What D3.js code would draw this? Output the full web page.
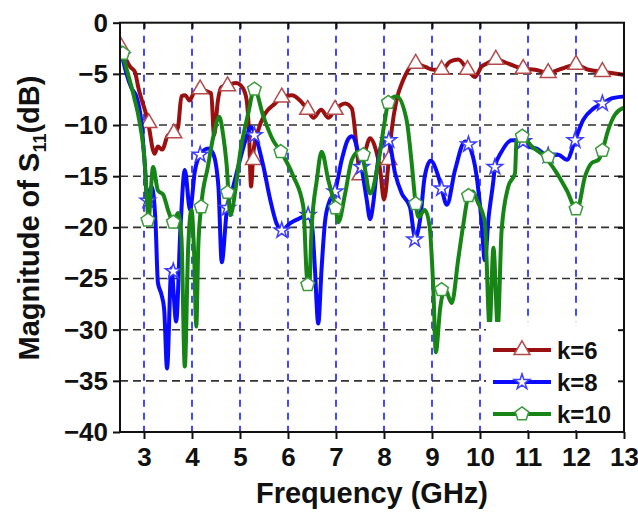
<!DOCTYPE html>
<html>
<head>
<meta charset="utf-8">
<script src="https://cdn.jsdelivr.net/npm/d3@7"></script>
<style>
  html, body { margin: 0; padding: 0; background: #fff; }
  svg { display: block; font-family: 'Liberation Sans', Arial, sans-serif; }
</style>
</head>
<body>
<div id="chart"></div>
<script>
// k=6 curve (frequency in GHz, S11 in dB)
const freqK6 = [2.5, 2.71, 2.81, 2.88, 3.08, 3.22, 3.29, 3.38, 3.5, 3.64, 3.71, 3.78, 3.86, 3.95, 4.06, 4.19,
  4.4, 4.46, 4.54, 4.61, 4.75, 4.92, 5.06, 5.14, 5.19, 5.23, 5.28, 5.38, 5.52, 5.73, 5.87, 6.08, 6.25,
  6.41, 6.53, 6.69, 6.84, 6.98, 7.19, 7.33, 7.43, 7.5, 7.6, 7.71, 7.81, 7.92, 8.0, 8.1, 8.16, 8.26,
  8.4, 8.66, 8.85, 9.03, 9.2, 9.38, 9.55, 9.74, 9.9, 10.03, 10.14, 10.33, 10.59, 10.9, 11.15, 11.42,
  11.7, 12.0, 12.26, 12.55, 13.0];
const s11K6 = [-2.2, -4.3, -4.8, -6.3, -9.6, -12.8, -12.1, -12.4, -11.0, -10.8, -10.2, -7.2, -7.1, -7.6, -6.7, -6.6,
  -6.9, -11.0, -7.6, -6.3, -6.1, -5.9, -6.4, -7.6, -11.0, -16.0, -12.6, -10.5, -8.9, -7.9, -7.3, -7.1, -7.6,
  -8.5, -9.3, -8.5, -9.3, -8.5, -7.9, -8.4, -12.1, -14.9, -12.8, -11.3, -12.1, -14.4, -17.3, -13.4, -10.5, -7.6,
  -5.6, -4.0, -4.3, -4.6, -4.6, -3.8, -3.6, -4.6, -5.3, -4.3, -4.0, -3.6, -4.0, -4.5, -4.6, -4.9,
  -4.5, -4.1, -4.6, -4.8, -5.1];

// k=8 curve
const freqK8 = [2.53, 2.63, 2.74, 2.84, 2.94, 3.01, 3.07, 3.16, 3.24, 3.29, 3.36, 3.42, 3.48, 3.57, 3.67, 3.76,
  3.85, 3.96, 4.06, 4.17, 4.34, 4.44, 4.55, 4.62, 4.72, 4.86, 5.0, 5.14, 5.22, 5.35, 5.49, 5.63, 5.76,
  5.87, 6.04, 6.25, 6.42, 6.5, 6.56, 6.63, 6.7, 6.77, 6.86, 6.98, 7.12, 7.25, 7.33, 7.47, 7.53, 7.64,
  7.71, 7.78, 7.85, 8.02, 8.1, 8.23, 8.37, 8.54, 8.65, 8.75, 8.85, 8.97, 9.13, 9.2, 9.31, 9.48, 9.69,
  9.76, 9.93, 10.03, 10.1, 10.18, 10.28, 10.31, 10.45, 10.66, 10.9, 11.01, 11.18, 11.42, 11.63, 11.81,
  11.98, 12.15, 12.36, 12.55, 12.74, 13.0];
const s11K8 = [-3.0, -4.9, -6.4, -7.2, -9.5, -13.4, -17.3, -16.0, -19.5, -25.4, -26.5, -28.0, -33.8, -24.0, -29.2, -20.0,
  -14.4, -18.3, -14.5, -12.9, -12.3, -12.8, -16.0, -23.4, -18.6, -16.0, -13.4, -11.1, -10.2, -11.5, -14.1, -17.3, -19.6,
  -20.3, -19.6, -19.1, -18.8, -19.8, -24.0, -29.4, -24.0, -19.5, -17.5, -16.5, -13.4, -11.4, -11.1, -12.8, -14.1, -17.3,
  -19.2, -17.5, -14.4, -11.3, -11.5, -14.7, -16.7, -18.0, -21.0, -19.3, -15.0, -13.5, -15.0, -16.2, -17.8, -14.4, -11.6,
  -11.9, -15.0, -19.3, -23.2, -19.0, -15.4, -14.1, -12.6, -11.5, -11.6, -12.1, -12.3, -13.0, -12.9, -13.4,
  -11.5, -9.5, -8.4, -7.9, -7.4, -7.2];

// k=10 curve
const freqK10 = [2.53, 2.7, 2.8, 2.9, 3.01, 3.07, 3.09, 3.19, 3.29, 3.4, 3.5, 3.61, 3.71, 3.78, 3.85, 3.92,
  3.99, 4.04, 4.09, 4.13, 4.19, 4.33, 4.45, 4.57, 4.65, 4.72, 4.8, 4.9, 5.0, 5.17, 5.3, 5.49, 5.69,
  5.85, 6.11, 6.32, 6.39, 6.44, 6.49, 6.6, 6.7, 6.84, 6.99, 7.05, 7.19, 7.33, 7.47, 7.57, 7.71, 7.88,
  8.02, 8.09, 8.26, 8.47, 8.57, 8.66, 8.72, 8.85, 8.95, 9.03, 9.08, 9.17, 9.27, 9.41, 9.55, 9.65, 9.76,
  9.85, 9.95, 10.1, 10.2, 10.28, 10.37, 10.45, 10.59, 10.73, 10.76, 10.88, 11.08, 11.35, 11.6, 11.81,
  12.02, 12.19, 12.33, 12.47, 12.55, 12.67, 12.81, 13.0];
const s11K10 = [-2.8, -5.6, -7.4, -9.5, -13.4, -18.0, -19.3, -14.1, -16.4, -16.8, -18.3, -19.5, -18.6, -21.0, -33.6, -22.0,
  -18.3, -22.0, -29.7, -22.0, -18.0, -14.1, -11.0, -9.2, -11.0, -13.8, -18.8, -16.5, -12.8, -8.9, -6.5, -9.2, -11.5,
  -12.6, -15.0, -18.0, -24.7, -26.0, -20.3, -15.4, -12.6, -15.4, -18.1, -19.5, -16.7, -13.4, -12.6, -13.5, -16.7, -13.7,
  -9.5, -7.8, -7.2, -9.5, -13.4, -17.7, -19.0, -18.3, -19.9, -26.3, -32.2, -27.9, -26.0, -27.4, -23.0, -19.8, -16.9,
  -16.5, -17.5, -19.5, -29.7, -22.0, -29.7, -20.3, -16.0, -14.7, -11.5, -11.1, -12.1, -13.1, -14.7, -16.4,
  -18.3, -15.0, -13.7, -13.4, -12.5, -10.5, -9.0, -8.3];

// marker positions
const markK6 = [[2.5, -2.2], [3.1, -9.8], [3.62, -10.8], [4.17, -6.5], [4.74, -6.2], [5.28, -13.4], [5.87, -7.3],
  [6.41, -8.5], [6.98, -8.5], [7.5, -14.9], [8.1, -13.4], [8.66, -4.0], [9.2, -4.6], [9.74, -4.6],
  [10.33, -3.6], [10.9, -4.5], [11.42, -4.9], [12.0, -4.1], [12.55, -4.8]];
const markK8 = [[2.54, -3.2], [3.08, -17.4], [3.61, -24.3], [4.17, -12.9], [4.74, -18.1], [5.3, -11.0], [5.87, -20.3],
  [6.42, -18.8], [6.98, -16.5], [7.53, -14.1], [8.1, -11.5], [8.64, -21.2], [9.2, -16.2], [9.76, -11.9],
  [10.31, -14.1], [10.9, -11.6], [11.42, -13.0], [11.98, -11.5], [12.55, -7.9]];
const markK10 = [[2.56, -3.0], [3.08, -19.3], [3.61, -19.5], [4.19, -18.0], [4.74, -16.6], [5.3, -6.5], [5.85, -12.6],
  [6.41, -25.6], [6.99, -18.1], [7.57, -12.9], [8.09, -7.8], [8.66, -17.7], [9.2, -26.1], [9.76, -16.9],
  [10.88, -11.1], [11.42, -13.1], [12.0, -18.2], [12.55, -12.5]];

const legendLabels = ['k=6', 'k=8', 'k=10'];
const xTicks = [3, 4, 5, 6, 7, 8, 9, 10, 11, 12, 13];
const yTicks = [0, -5, -10, -15, -20, -25, -30, -35, -40];

const width = 638;
const height = 512;
const marginLeft = 120;
const marginRight = 14;
const marginTop = 22.7;
const marginBottom = 80;

// pentagon symbol (d3 has none)
const symbolPentagon = {
  draw(context, size) {
    const r = Math.sqrt(size / 2.378);
    for (let i = 0; i < 5; i += 1) {
      const a = -Math.PI / 2 + (i * 2 * Math.PI) / 5;
      const px = r * Math.cos(a);
      const py = r * Math.sin(a);
      if (i === 0) context.moveTo(px, py);
      else context.lineTo(px, py);
    }
    context.closePath();
  },
};

const series = [
  { name: legendLabels[0], x: freqK6, y: s11K6, marks: markK6, color: '#9a0f0f', markColor: '#b44a4a', symbol: d3.symbolTriangle, size: 110 },
  { name: legendLabels[1], x: freqK8, y: s11K8, marks: markK8, color: '#0a0aff', markColor: '#3d3dff', symbol: d3.symbolStar, size: 75 },
  { name: legendLabels[2], x: freqK10, y: s11K10, marks: markK10, color: '#168516', markColor: '#3c9a3c', symbol: symbolPentagon, size: 120 },
];

const xScale = d3.scaleLinear([2.5, 13], [marginLeft, width - marginRight]);
const yScale = d3.scaleLinear([-40, 0], [height - marginBottom, marginTop]);

const svg = d3
  .select('#chart')
  .append('svg')
  .attr('width', width)
  .attr('height', height)
  .attr('viewBox', [0, 0, width, height]);

svg
  .append('defs')
  .append('clipPath')
  .attr('id', 'clip')
  .append('rect')
  .attr('x', marginLeft)
  .attr('y', marginTop)
  .attr('width', width - marginLeft - marginRight)
  .attr('height', height - marginTop - marginBottom);

// grid
const grid = svg.append('g');
grid
  .selectAll('.hgrid')
  .data(yTicks.filter((d) => d !== 0 && d !== -40))
  .join('line')
  .attr('class', 'hgrid')
  .attr('x1', marginLeft)
  .attr('x2', width - marginRight)
  .attr('y1', (d) => yScale(d))
  .attr('y2', (d) => yScale(d))
  .attr('stroke', '#333')
  .attr('stroke-width', 1.6)
  .attr('stroke-dasharray', '8,5');
grid
  .selectAll('.vgrid')
  .data(xTicks.filter((d) => d !== 13))
  .join('line')
  .attr('class', 'vgrid')
  .attr('x1', (d) => xScale(d))
  .attr('x2', (d) => xScale(d))
  .attr('y1', marginTop)
  .attr('y2', height - marginBottom)
  .attr('stroke', '#1a1aff')
  .attr('stroke-width', 1.6)
  .attr('stroke-dasharray', '7,6');

const body = svg.append('g').attr('clip-path', 'url(#clip)');

const line = d3
  .line()
  .x((d) => xScale(d[0]))
  .y((d) => yScale(d[1]))
  .curve(d3.curveMonotoneX);

series.forEach((s) => {
  const pts = s.x.map((f, i) => [f, s.y[i]]);
  body
    .append('path')
    .attr('d', line(pts))
    .attr('fill', 'none')
    .attr('stroke', s.color)
    .attr('stroke-width', 4)
    .attr('stroke-linejoin', 'round');

  const sym = d3.symbol().type(s.symbol).size(s.size);
  const mg = body.append('g');
  mg.selectAll('path')
    .data(s.marks)
    .join('path')
    .attr('transform', (d) => `translate(${xScale(d[0])},${yScale(d[1])})`)
    .attr('d', sym)
    .attr('fill', '#fff')
    .attr('stroke', s.markColor)
    .attr('stroke-width', 1.5);
});

// legend
const legend = svg.append('g');
legend
  .append('rect')
  .attr('x', 486)
  .attr('y', 322)
  .attr('width', 136)
  .attr('height', 108)
  .attr('fill', '#fff');

series.forEach((s, i) => {
  const ly = 350 + i * 32;
  legend
    .append('line')
    .attr('x1', 493)
    .attr('x2', 551)
    .attr('y1', ly)
    .attr('y2', ly)
    .attr('stroke', s.color)
    .attr('stroke-width', 4);
  legend
    .append('path')
    .attr('transform', `translate(522,${ly})`)
    .attr('d', d3.symbol().type(s.symbol).size(s.size)())
    .attr('fill', '#fff')
    .attr('stroke', s.markColor)
    .attr('stroke-width', 1.5);
  legend
    .append('text')
    .attr('x', 557)
    .attr('y', ly + 8.5)
    .attr('font-size', 24)
    .attr('font-weight', 'bold')
    .attr('fill', '#111')
    .text(s.name);
});

// axes
function styleAxis(g) {
  g.select('.domain').remove();
  g.selectAll('.tick line').attr('stroke', '#111').attr('stroke-width', 2);
  g.selectAll('.tick text')
    .attr('fill', '#111')
    .style('font-size', '26px')
    .style('font-weight', 'bold')
    .style('font-family', "'Liberation Sans', Arial, sans-serif");
}

svg
  .append('g')
  .attr('transform', `translate(0,${height - marginBottom})`)
  .call(d3.axisBottom(xScale).tickValues(xTicks).tickSize(7).tickPadding(9).tickFormat(d3.format('d')))
  .call(styleAxis);

svg
  .append('g')
  .attr('transform', `translate(${marginLeft},0)`)
  .call(d3.axisLeft(yScale).tickValues(yTicks).tickSize(7).tickPadding(5).tickFormat(d3.format('d')))
  .call(styleAxis);

svg
  .append('g')
  .attr('transform', `translate(0,${marginTop})`)
  .call(d3.axisTop(xScale).tickValues(xTicks.filter((d) => d !== 13)).tickSize(-6).tickFormat(''))
  .call(styleAxis);

svg
  .append('g')
  .attr('transform', `translate(${width - marginRight},0)`)
  .call(d3.axisRight(yScale).tickValues(yTicks.filter((d) => d !== 0 && d !== -40)).tickSize(-6).tickFormat(''))
  .call(styleAxis);

// frame
svg
  .append('rect')
  .attr('x', marginLeft)
  .attr('y', marginTop)
  .attr('width', width - marginLeft - marginRight)
  .attr('height', height - marginTop - marginBottom)
  .attr('fill', 'none')
  .attr('stroke', '#111')
  .attr('stroke-width', 2);

// axis titles
svg
  .append('text')
  .attr('x', (marginLeft + width - marginRight) / 2)
  .attr('y', 503)
  .attr('text-anchor', 'middle')
  .attr('font-size', 29)
  .attr('font-weight', 'bold')
  .attr('fill', '#111')
  .text('Frequency (GHz)');

const yTitle = svg
  .append('text')
  .attr('transform', 'translate(39,218) rotate(-90)')
  .attr('text-anchor', 'middle')
  .attr('font-size', 29)
  .attr('font-weight', 'bold')
  .attr('fill', '#111');
yTitle.append('tspan').text('Magnitude of S');
yTitle.append('tspan').attr('font-size', 18).attr('dy', 7).text('11');
yTitle.append('tspan').attr('dy', -7).text('(dB)');
</script>
</body>
</html>
